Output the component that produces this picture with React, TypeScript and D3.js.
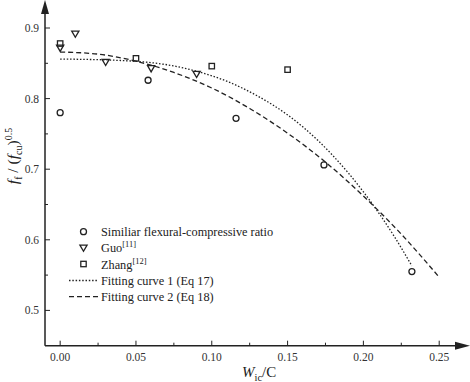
import React, { useEffect, useRef } from "react";
import * as d3 from "d3";

const similiarX = [0, 0.058, 0.116, 0.174, 0.232];
const similiarY = [0.78, 0.826, 0.772, 0.706, 0.555];
const guoX = [0, 0.01, 0.03, 0.06, 0.09];
const guoY = [0.872, 0.892, 0.852, 0.843, 0.835];
const zhangX = [0, 0.05, 0.1, 0.15];
const zhangY = [0.878, 0.857, 0.846, 0.841];

// fitting curves, points
const fit1X = [0, 0.04, 0.08, 0.12, 0.16, 0.18, 0.2, 0.22, 0.232];
const fit1Y = [0.856, 0.854, 0.844, 0.815, 0.76, 0.719, 0.668, 0.606, 0.563];
const fit2X = [0, 0.025, 0.05, 0.075, 0.1, 0.125, 0.15, 0.175, 0.2, 0.225, 0.25];
const fit2Y = [0.866, 0.863, 0.853, 0.837, 0.815, 0.786, 0.751, 0.71, 0.662, 0.608, 0.547];

const xTicks = [0, 0.05, 0.1, 0.15, 0.2, 0.25];
const yTicks = [0.5, 0.6, 0.7, 0.8, 0.9];

const W = 470;
const H = 382;

function App() {
  const ref = useRef<SVGSVGElement>(null);

  useEffect(() => {
    const svg = d3.select(ref.current);
    svg.selectAll("*").remove();

    const x = d3.scaleLinear().domain([-0.01, 0.269]).range([45, 468]);
    const y = d3.scaleLinear().domain([0.45, 0.9]).range([345.7, 28]);
    const ink = "#222";

    // axes lines
    svg.append("line").attr("x1", 45).attr("x2", 458).attr("y1", 345.7).attr("y2", 345.7)
      .attr("stroke", ink).attr("stroke-width", 1.5);
    svg.append("line").attr("x1", 45).attr("x2", 45).attr("y1", 345.7).attr("y2", 10)
      .attr("stroke", ink).attr("stroke-width", 1.5);
    svg.append("path").attr("d", "M470,345.7 L455,341.7 L455,349.7 Z").attr("fill", ink);
    svg.append("path").attr("d", "M45,0 L41,14 L49,14 Z").attr("fill", ink);

    // x ticks
    const xMinor = d3.range(0, 0.26, 0.025);
    svg.selectAll(".xt").data(xMinor).enter().append("line")
      .attr("x1", d => x(d)).attr("x2", d => x(d))
      .attr("y1", 345.7)
      .attr("y2", (d, i) => 345.7 - (i % 2 === 0 ? 5 : 3))
      .attr("stroke", ink).attr("stroke-width", 1);
    svg.selectAll(".xl").data(xTicks).enter().append("text")
      .attr("x", d => x(d)).attr("y", 361)
      .attr("text-anchor", "middle")
      .attr("font-size", 11.5).attr("fill", "#333")
      .text(d => d3.format(".2f")(d));

    // y ticks
    const yMinor = d3.range(0.5, 0.91, 0.05);
    svg.selectAll(".yt").data(yMinor).enter().append("line")
      .attr("x1", 45).attr("x2", (d, i) => 45 + (i % 2 === 0 ? 5 : 3))
      .attr("y1", d => y(d)).attr("y2", d => y(d))
      .attr("stroke", ink).attr("stroke-width", 1);
    svg.selectAll(".yl").data(yTicks).enter().append("text")
      .attr("x", 39).attr("y", d => y(d) + 4)
      .attr("text-anchor", "end")
      .attr("font-size", 11.5).attr("fill", "#333")
      .text(d => d3.format(".1f")(d));

    // fitting curves
    const line = d3.line<[number, number]>().x(d => x(d[0])).y(d => y(d[1])).curve(d3.curveMonotoneX);
    svg.append("path").attr("d", line(fit1X.map((v, i) => [v, fit1Y[i]]) as [number, number][]))
      .attr("fill", "none").attr("stroke", ink).attr("stroke-width", 1.3).attr("stroke-dasharray", "1.5,1.8");
    svg.append("path").attr("d", line(fit2X.map((v, i) => [v, fit2Y[i]]) as [number, number][]))
      .attr("fill", "none").attr("stroke", ink).attr("stroke-width", 1.3).attr("stroke-dasharray", "5,3");

    const circle = (g: any, cx: number, cy: number) =>
      g.append("circle").attr("cx", cx).attr("cy", cy).attr("r", 3)
        .attr("fill", "none").attr("stroke", ink).attr("stroke-width", 1.3);
    const tri = (g: any, cx: number, cy: number) =>
      g.append("path").attr("d", `M${cx - 3.6},${cy - 2.6} L${cx + 3.6},${cy - 2.6} L${cx},${cy + 3.6} Z`)
        .attr("fill", "none").attr("stroke", ink).attr("stroke-width", 1.3);
    const sq = (g: any, cx: number, cy: number) =>
      g.append("rect").attr("x", cx - 2.7).attr("y", cy - 2.7).attr("width", 5.4).attr("height", 5.4)
        .attr("fill", "none").attr("stroke", ink).attr("stroke-width", 1.3);

    similiarX.forEach((v, i) => circle(svg, x(v), y(similiarY[i])));
    guoX.forEach((v, i) => tri(svg, x(v), y(guoY[i])));
    zhangX.forEach((v, i) => sq(svg, x(v), y(zhangY[i])));

    // legend
    const lg = svg.append("g");
    const rows = [231.7, 247.7, 264, 280.5, 296.7];
    circle(lg, 83.5, rows[0]);
    tri(lg, 83.5, rows[1]);
    sq(lg, 83.5, rows[2]);
    lg.append("line").attr("x1", 69).attr("x2", 98).attr("y1", rows[3]).attr("y2", rows[3])
      .attr("stroke", ink).attr("stroke-width", 1.3).attr("stroke-dasharray", "1.5,1.8");
    lg.append("line").attr("x1", 69).attr("x2", 98).attr("y1", rows[4]).attr("y2", rows[4])
      .attr("stroke", ink).attr("stroke-width", 1.3).attr("stroke-dasharray", "5,3");
    const labels: [string, string][] = [
      ["Similiar flexural-compressive ratio", ""],
      ["Guo", "[11]"],
      ["Zhang", "[12]"],
      ["Fitting curve 1 (Eq 17)", ""],
      ["Fitting curve 2 (Eq 18)", ""],
    ];
    labels.forEach(([t, s], i) => {
      const tx = lg.append("text").attr("x", 101).attr("y", rows[i] + 4.5)
        .attr("font-size", 12.3).attr("fill", "#222");
      tx.append("tspan").text(t);
      if (s) tx.append("tspan").attr("dy", -5).attr("font-size", 8.5).text(s);
    });

    // axis titles
    const xt = svg.append("text").attr("x", 242).attr("y", 376.5)
      .attr("font-size", 15).attr("fill", "#222");
    xt.append("tspan").attr("font-style", "italic").text("W");
    xt.append("tspan").attr("dy", 4).attr("font-size", 10.5).text("ic");
    xt.append("tspan").attr("dy", -4).text("/C");

    const yt = svg.append("text")
      .attr("transform", "translate(18,156) rotate(-90)")
      .attr("text-anchor", "middle")
      .attr("font-size", 15.5).attr("fill", "#222");
    yt.append("tspan").attr("font-style", "italic").text("f");
    yt.append("tspan").attr("dy", 4).attr("font-size", 10).text("f");
    yt.append("tspan").attr("dy", -4).text(" / (");
    yt.append("tspan").attr("font-style", "italic").text("f");
    yt.append("tspan").attr("dy", 4).attr("font-size", 10).text("cu");
    yt.append("tspan").attr("dy", -4).text(")");
    yt.append("tspan").attr("dy", -6).attr("font-size", 10).text("0.5");
  }, []);

  return (
    <svg ref={ref} width={W} height={H}
      style={{ position: "absolute", left: 0, top: 0, background: "#fff", fontFamily: "Liberation Serif, serif" }} />
  );
}

export default App;
